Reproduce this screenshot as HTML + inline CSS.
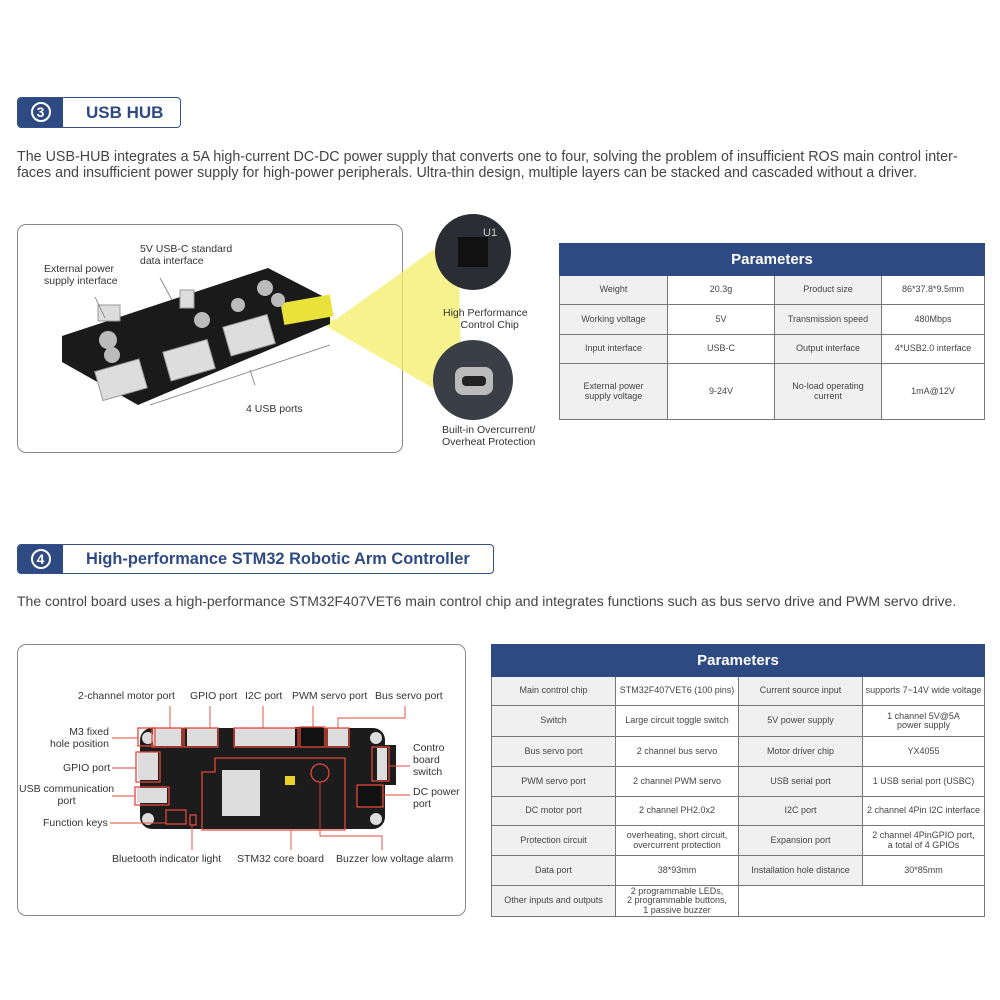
<!DOCTYPE html>
<html><head><meta charset="utf-8"><style>
*{margin:0;padding:0;box-sizing:border-box}
body{width:1000px;height:1000px;background:#fff;position:relative;overflow:hidden;font-family:"Liberation Sans",sans-serif;color:#333}
.a{position:absolute}
.hdr{position:absolute;border:1.5px solid #33508a;border-radius:4px;background:#fff;overflow:hidden}
.hdr .n{position:absolute;left:0;top:0;bottom:0;width:45px;background:#2e4a82;color:#fff;font-size:18px;font-weight:bold;text-align:center}
.hdr .n span{display:inline-block;width:20px;height:20px;border:2px solid #fff;border-radius:50%;line-height:16px;font-size:14px;margin-top:4px}
.hdr .t{position:absolute;left:68px;top:5px;color:#2e4a82;font-size:17px;font-weight:bold}
.p{position:absolute;left:17px;font-size:14.3px;color:#444;line-height:16px;white-space:nowrap}
.frame{position:absolute;border:1.3px solid #888;border-radius:9px}
table{position:absolute;border-collapse:collapse;font-size:9px;color:#444;text-align:center}
td{border:1px solid #777;line-height:9.5px;padding:0 2px}
td.g{background:#f0f0f0}
th{background:#2e4a82;color:#fff;font-size:15px;border:1px solid #2e4a82}
.l{position:absolute;font-size:10.5px;color:#333;line-height:12px;white-space:nowrap}
</style></head><body>

<div class="hdr" style="left:17px;top:97px;width:164px;height:31px"><div class="n"><span>3</span></div><div class="t">USB HUB</div></div>
<div class="p" style="top:149px;letter-spacing:0px">The USB-HUB integrates a 5A high-current DC-DC power supply that converts one to four, solving the problem of insufficient ROS main control inter-<br>faces and insufficient power supply for high-power peripherals. Ultra-thin design, multiple layers can be stacked and cascaded without a driver.</div>

<div class="frame" style="left:17px;top:224px;width:386px;height:229px"></div>
<svg class="a" style="left:0;top:0" width="560" height="460">
<polygon points="290,305 335,320 458,232 462,405" fill="#f3ef6a" opacity="0.75"/>
<polygon points="62,336 268,268 330,300 330,324 138,405 62,362" fill="#1a1a1a"/>
<rect x="282" y="300" width="50" height="22" fill="#e9e23a" transform="rotate(-10 300 310)"/>
<g fill="#ddd" stroke="#999">
<rect x="98" y="365" width="46" height="30" transform="rotate(-16 120 380)"/>
<rect x="166" y="345" width="46" height="30" transform="rotate(-16 190 360)"/>
<rect x="226" y="320" width="46" height="30" transform="rotate(-16 250 335)"/>
<rect x="180" y="290" width="14" height="18"/>
<rect x="98" y="305" width="22" height="16"/>
</g>
<g fill="#bbb"><circle cx="108" cy="340" r="9"/><circle cx="112" cy="355" r="8"/><circle cx="202" cy="320" r="8"/><circle cx="238" cy="305" r="7"/><circle cx="265" cy="288" r="8"/><circle cx="278" cy="300" r="7"/></g>
<g stroke="#777" fill="none" stroke-width="0.8"><line x1="95" y1="297" x2="105" y2="318"/><line x1="160" y1="278" x2="172" y2="300"/><polyline points="150,405 330,345"/><line x1="255" y1="385" x2="250" y2="370"/></g>
<circle cx="473" cy="252" r="38" fill="#2a2d33"/><rect x="458" y="237" width="30" height="30" fill="#111"/>
<text x="483" y="236" fill="#ccc" font-size="11" font-family="Liberation Sans">U1</text>
<circle cx="473" cy="380" r="40" fill="#3a3f47"/><rect x="455" y="367" width="38" height="28" rx="8" fill="#bbb"/><rect x="462" y="376" width="24" height="10" rx="4" fill="#222"/>
</svg>
<div class="l" style="left:44px;top:263px">External power<br>supply interface</div>
<div class="l" style="left:140px;top:243px">5V USB-C standard<br>data interface</div>
<div class="l" style="left:246px;top:403px">4 USB ports</div>
<div class="l" style="left:443px;top:307px;text-align:center">High Performance<br>&nbsp;&nbsp;&nbsp;Control Chip</div>
<div class="l" style="left:442px;top:424px;text-align:center">Built-in Overcurrent/<br>Overheat Protection</div>

<table style="left:559px;top:243px;width:426px;height:177px">
<tr style="height:32px"><th colspan="4">Parameters</th></tr>
<tr><td class="g" style="width:108px">Weight</td><td style="width:107px">20.3g</td><td class="g" style="width:107px">Product size</td><td>86*37.8*9.5mm</td></tr>
<tr><td class="g">Working voltage</td><td>5V</td><td class="g">Transmission speed</td><td>480Mbps</td></tr>
<tr><td class="g">Input interface</td><td>USB-C</td><td class="g">Output interface</td><td>4*USB2.0 interface</td></tr>
<tr><td class="g">External power<br>supply voltage</td><td>9-24V</td><td class="g">No-load operating<br>current</td><td>1mA@12V</td></tr>
</table>

<div class="hdr" style="left:17px;top:544px;width:477px;height:30px"><div class="n"><span>4</span></div><div class="t" style="top:5px;font-size:16.4px">High-performance STM32 Robotic Arm Controller</div></div>
<div class="p" style="top:593px;font-size:14px">The control board uses a high-performance STM32F407VET6 main control chip and integrates functions such as bus servo drive and PWM servo drive.</div>

<div class="frame" style="left:17px;top:644px;width:449px;height:272px"></div>
<svg class="a" style="left:0;top:0" width="480" height="920">
<rect x="140" y="728" width="245" height="101" rx="12" fill="#1c1c1c"/>
<rect x="380" y="745" width="16" height="40" fill="#1c1c1c"/>
<g fill="#ddd"><circle cx="148" cy="738" r="6"/><circle cx="376" cy="738" r="6"/><circle cx="148" cy="819" r="6"/><circle cx="376" cy="819" r="6"/>
<rect x="153" y="728" width="28" height="18"/><rect x="187" y="728" width="30" height="18"/><rect x="235" y="728" width="62" height="18"/><rect x="328" y="728" width="20" height="18"/>
<rect x="138" y="752" width="20" height="28"/><rect x="137" y="788" width="30" height="15"/><rect x="222" y="770" width="38" height="46"/><rect x="377" y="748" width="10" height="32"/></g>
<rect x="295" y="727" width="28" height="20" fill="#111"/><rect x="358" y="786" width="22" height="20" fill="#111"/>
<rect x="285" y="776" width="10" height="9" fill="#e8d22a"/>
<g fill="none" stroke="#e0473b" stroke-width="1.3">
<rect x="138" y="728" width="17" height="18"/><rect x="152" y="728" width="30" height="19"/><rect x="184" y="728" width="34" height="19"/><rect x="234" y="728" width="64" height="19"/><rect x="300" y="727" width="25" height="20"/><rect x="327" y="728" width="22" height="19"/>
<rect x="136" y="752" width="24" height="30"/><rect x="135" y="787" width="34" height="18"/><rect x="166" y="810" width="20" height="14"/><rect x="190" y="815" width="6" height="10"/>
<polygon points="215,758 345,758 345,830 202,830 202,772 215,772"/>
<circle cx="320" cy="773" r="9"/><rect x="372" y="747" width="17" height="34"/><rect x="357" y="785" width="26" height="22"/>
</g>
<g fill="none" stroke="#e0473b" stroke-width="0.9">
<line x1="170" y1="706" x2="170" y2="728"/><line x1="210" y1="706" x2="210" y2="728"/><line x1="263" y1="706" x2="263" y2="728"/><line x1="313" y1="706" x2="313" y2="727"/><polyline points="405,706 405,718 338,718 338,728"/>
<line x1="112" y1="738" x2="138" y2="738"/><line x1="112" y1="768" x2="136" y2="768"/><line x1="112" y1="796" x2="135" y2="796"/><line x1="110" y1="823" x2="166" y2="823"/>
<line x1="192" y1="825" x2="192" y2="850"/><line x1="291" y1="830" x2="291" y2="850"/><polyline points="320,782 320,836 382,836 382,850"/>
<line x1="389" y1="766" x2="410" y2="766"/><line x1="383" y1="795" x2="410" y2="795"/>
</g>
</svg>
<div class="l" style="left:78px;top:690px">2-channel motor port</div>
<div class="l" style="left:190px;top:690px">GPIO port</div>
<div class="l" style="left:245px;top:690px">I2C port</div>
<div class="l" style="left:292px;top:690px">PWM servo port</div>
<div class="l" style="left:375px;top:690px">Bus servo port</div>
<div class="l" style="left:50px;top:726px;text-align:right">M3 fixed<br>hole position</div>
<div class="l" style="left:63px;top:762px">GPIO port</div>
<div class="l" style="left:19px;top:783px;text-align:center">USB communication<br>port</div>
<div class="l" style="left:43px;top:817px">Function keys</div>
<div class="l" style="left:112px;top:853px">Bluetooth indicator light</div>
<div class="l" style="left:237px;top:853px">STM32 core board</div>
<div class="l" style="left:336px;top:853px">Buzzer low voltage alarm</div>
<div class="l" style="left:413px;top:742px">Contro<br>board<br>switch</div>
<div class="l" style="left:413px;top:786px">DC power<br>port</div>

<table style="left:491px;top:644px;width:494px;height:272px">
<tr style="height:32px"><th colspan="4">Parameters</th></tr>
<tr style="height:29px"><td class="g" style="width:124px">Main control chip</td><td style="width:123px">STM32F407VET6 (100 pins)</td><td class="g" style="width:124px">Current source input</td><td>supports 7~14V wide voltage</td></tr>
<tr style="height:31px"><td class="g">Switch</td><td>Large circuit toggle switch</td><td class="g">5V power supply</td><td>1 channel 5V@5A<br>power supply</td></tr>
<tr style="height:30px"><td class="g">Bus servo port</td><td>2 channel bus servo</td><td class="g">Motor driver chip</td><td>YX4055</td></tr>
<tr style="height:30px"><td class="g">PWM servo port</td><td>2 channel PWM servo</td><td class="g">USB serial port</td><td>1 USB serial port (USBC)</td></tr>
<tr style="height:29px"><td class="g">DC motor port</td><td>2 channel PH2.0x2</td><td class="g">I2C port</td><td>2 channel 4Pin I2C interface</td></tr>
<tr style="height:30px"><td class="g">Protection circuit</td><td>overheating, short circuit,<br>overcurrent protection</td><td class="g">Expansion port</td><td>2 channel 4PinGPIO port,<br>a total of 4 GPIOs</td></tr>
<tr style="height:30px"><td class="g">Data port</td><td>38*93mm</td><td class="g">Installation hole distance</td><td>30*85mm</td></tr>
<tr style="height:31px"><td class="g">Other inputs and outputs</td><td>2 programmable LEDs,<br>2 programmable buttons,<br>1 passive buzzer</td><td colspan="2" style="border-right:1px solid #777"></td></tr>
</table>
</body></html>
